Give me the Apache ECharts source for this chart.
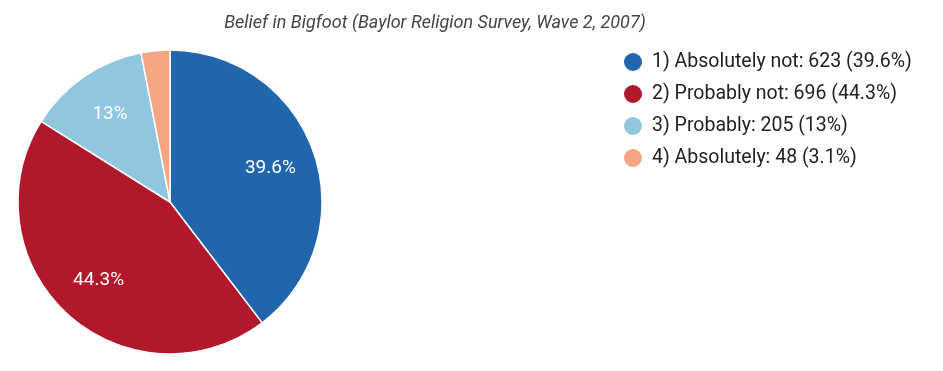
<!DOCTYPE html>
<html><head><meta charset="utf-8">
<script src="https://cdn.jsdelivr.net/npm/echarts@6/dist/echarts.min.js"></script>
<style>html,body{margin:0;padding:0;background:#fff}#c{width:943px;height:371px}</style>
</head><body><div id="c"></div>
<script>
const categories = ["1) Absolutely not", "2) Probably not", "3) Probably", "4) Absolutely"];
const values = [623, 696, 205, 48];
const pctLabels = ["39.6%", "44.3%", "13%", "3.1%"];
const colors = ["#2166ac", "#b2182b", "#92c5de", "#f4a582"];
const showLabel = [true, true, true, false];

const data = categories.map((n, i) => ({name: n, value: values[i], itemStyle: {color: colors[i]}}));
const labelData = categories.map((n, i) => ({name: n, value: values[i], label: {show: showLabel[i]}}));

const chart = echarts.init(document.getElementById('c'));
chart.setOption({
  animation: false,
  title: {
    text: 'Belief in Bigfoot (Baylor Religion Survey, Wave 2, 2007)',
    left: 430, textAlign: 'center', top: 9,
    textStyle: {fontFamily: 'Roboto', fontStyle: 'italic', fontWeight: 'normal', fontSize: 18, color: '#444'}
  },
  legend: {
    orient: 'vertical', left: 622, top: 51, padding: 0,
    icon: 'circle', itemWidth: 20, itemHeight: 20, itemGap: 10,
    textStyle: {fontFamily: 'Roboto', fontSize: 19.5, lineHeight: 20, color: '#222', padding: [0, 0, 0, 4]},
    formatter: function (name) {
      const i = categories.indexOf(name);
      return name + ': ' + values[i] + ' (' + pctLabels[i] + ')';
    }
  },
  series: [{
    type: 'pie', center: [170, 202], radius: [0, 152], startAngle: 90, clockwise: true,
    label: {show: false}, labelLine: {show: false},
    itemStyle: {borderColor: '#fff', borderWidth: 1.5},
    data: data
  }, {
    type: 'pie', center: [170, 202], radius: [54, 152], startAngle: 90, clockwise: true,
    silent: true, z: 3,
    itemStyle: {color: 'rgba(0,0,0,0)', borderWidth: 0},
    label: {position: 'inside', color: '#fff', fontFamily: 'Roboto', fontSize: 19, 
      formatter: function (p) { return pctLabels[p.dataIndex]; }},
    labelLine: {show: false},
    data: labelData
  }]
});
</script></body></html>
